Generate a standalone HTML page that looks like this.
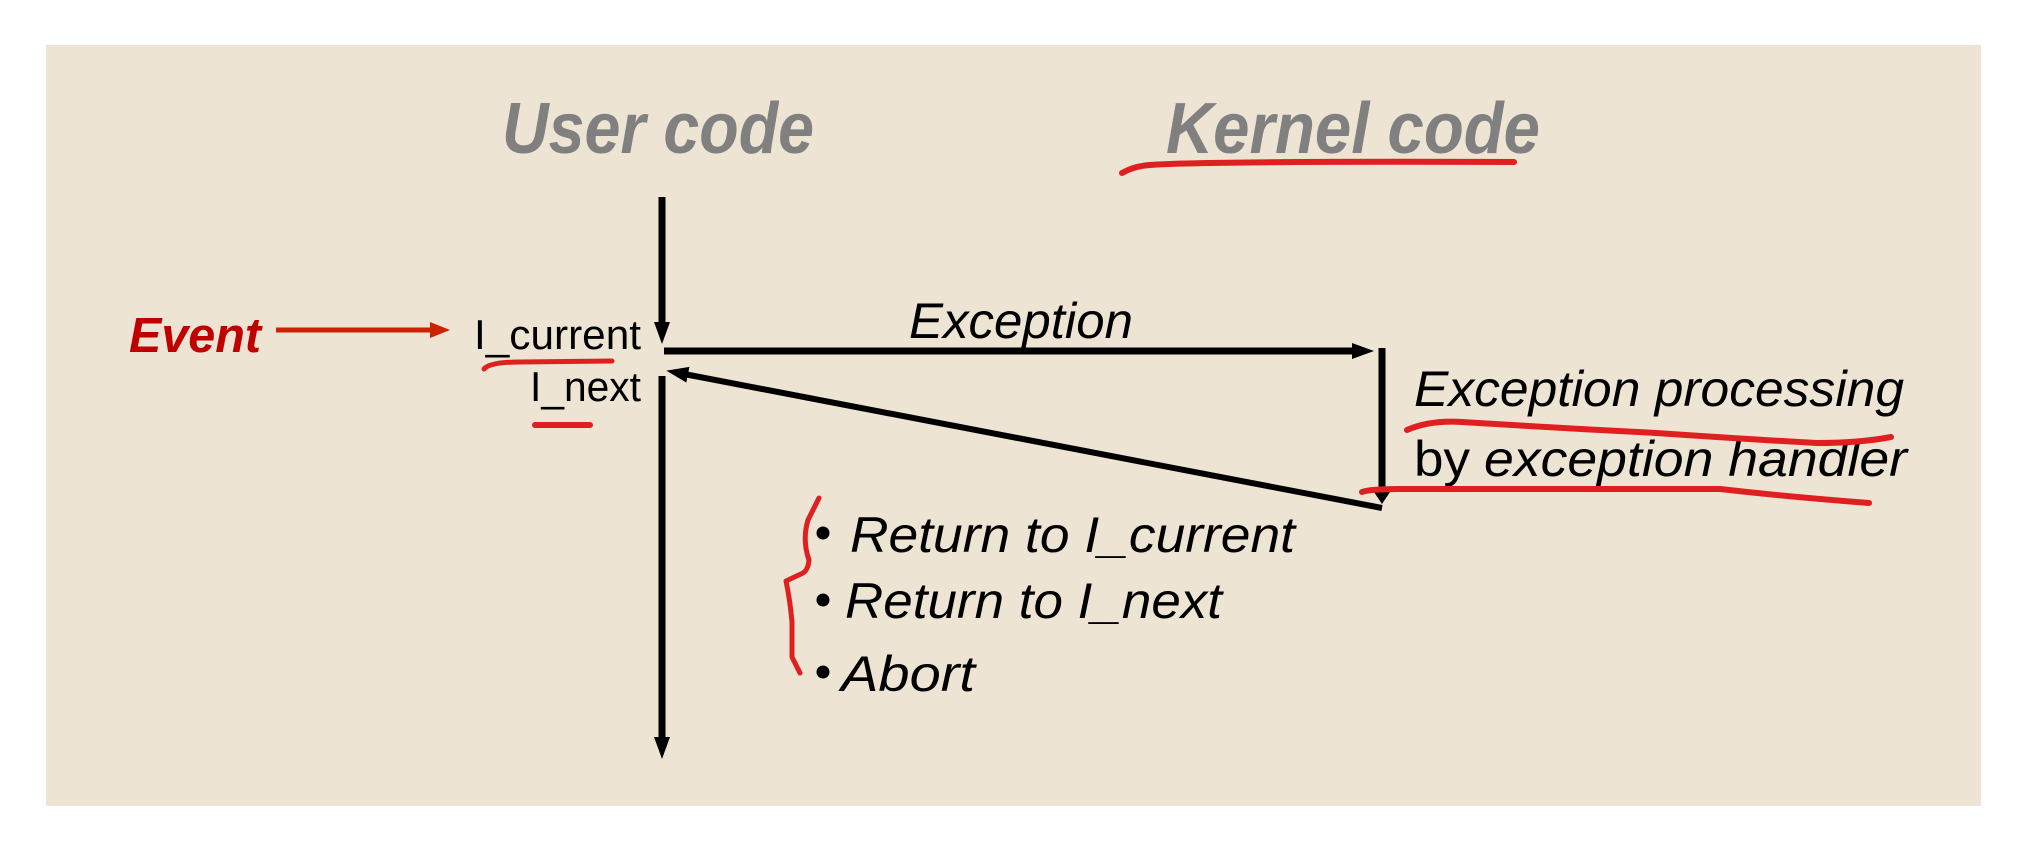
<!DOCTYPE html>
<html><head><style>html,body{margin:0;padding:0;background:#fff}svg{display:block}</style></head>
<body>
<svg width="2022" height="848" viewBox="0 0 2022 848" xmlns="http://www.w3.org/2000/svg" font-family="'Liberation Sans', sans-serif">
<defs>
<marker id="ah" markerWidth="22" markerHeight="18" refX="4" refY="9" orient="auto" markerUnits="userSpaceOnUse"><path d="M0,1 L22,9 L0,17 z" fill="#000"/></marker>
<marker id="ahr" markerWidth="20" markerHeight="16" refX="4" refY="8" orient="auto" markerUnits="userSpaceOnUse"><path d="M0,0 L20,8 L0,16 z" fill="#cc2200"/></marker>
</defs>
<rect x="46" y="45" width="1935" height="761" fill="#ede4d3"/>
<text x="502" y="153" font-size="72" font-weight="bold" font-style="italic" fill="#808080" textLength="312" lengthAdjust="spacingAndGlyphs">User code</text>
<text x="1166" y="153" font-size="72" font-weight="bold" font-style="italic" fill="#808080" textLength="374" lengthAdjust="spacingAndGlyphs">Kernel code</text>
<path d="M1122,173 Q1134,166 1150,165 Q1200,161 1514,162" stroke="#e02020" stroke-width="6" fill="none" stroke-linecap="round"/>
<line x1="662" y1="197" x2="662" y2="326" stroke="#000" stroke-width="7" marker-end="url(#ah)"/>
<line x1="662" y1="376" x2="662" y2="741" stroke="#000" stroke-width="7" marker-end="url(#ah)"/>
<line x1="664" y1="351" x2="1356" y2="351" stroke="#000" stroke-width="7" marker-end="url(#ah)"/>
<line x1="1382" y1="348" x2="1382" y2="496" stroke="#000" stroke-width="7"/>
<path d="M1374,492 L1390,492 L1382,504 z" fill="#000"/>
<line x1="1382" y1="508" x2="684" y2="374" stroke="#000" stroke-width="6" marker-end="url(#ah)"/>
<text x="909" y="338" font-size="50" font-style="italic" fill="#000" textLength="224" lengthAdjust="spacingAndGlyphs">Exception</text>
<text x="129" y="352" font-size="49" font-weight="bold" font-style="italic" fill="#c00000" textLength="132" lengthAdjust="spacingAndGlyphs">Event</text>
<line x1="276" y1="330" x2="434" y2="330" stroke="#cc2200" stroke-width="5" marker-end="url(#ahr)"/>
<text x="474" y="349" font-size="42" fill="#000" textLength="167" lengthAdjust="spacingAndGlyphs">I_current</text>
<text x="530" y="401" font-size="42" fill="#000" textLength="111" lengthAdjust="spacingAndGlyphs">I_next</text>
<path d="M484,369 Q490,362 520,362 L612,361" stroke="#e02020" stroke-width="5" fill="none" stroke-linecap="round"/>
<line x1="535" y1="425" x2="590" y2="425" stroke="#e02020" stroke-width="6" stroke-linecap="round"/>
<circle cx="823" cy="533" r="6.5" fill="#000"/>
<circle cx="823" cy="600" r="6.5" fill="#000"/>
<circle cx="823" cy="672" r="6.5" fill="#000"/>
<text x="850" y="552" font-size="50" font-style="italic" fill="#000" textLength="445" lengthAdjust="spacingAndGlyphs">Return to I_current</text>
<text x="845" y="618" font-size="50" font-style="italic" fill="#000" textLength="377" lengthAdjust="spacingAndGlyphs">Return to I_next</text>
<text x="841" y="691" font-size="50" font-style="italic" fill="#000" textLength="134" lengthAdjust="spacingAndGlyphs">Abort</text>
<path d="M819,498 L808,520 Q802,540 809,560 Q808,570 803,573 L786,581 Q790,600 792,622 L792,657 L800,673" stroke="#e02020" stroke-width="5" fill="none" stroke-linecap="round" stroke-linejoin="round"/>
<text x="1414" y="406" font-size="50" font-style="italic" fill="#000" textLength="490" lengthAdjust="spacingAndGlyphs">Exception processing</text>
<text x="1414" y="476" font-size="50" fill="#000"><tspan textLength="56" lengthAdjust="spacingAndGlyphs">by</tspan> <tspan font-style="italic" x="1484" textLength="423" lengthAdjust="spacingAndGlyphs">exception handler</tspan></text>
<path d="M1407,430 Q1430,420 1462,422 Q1560,428 1656,433 Q1760,440 1817,443 Q1860,443 1891,437" stroke="#e02020" stroke-width="6" fill="none" stroke-linecap="round"/>
<path d="M1362,492 Q1370,489 1400,489 L1720,489 Q1790,497 1869,503" stroke="#e02020" stroke-width="6" fill="none" stroke-linecap="round"/>
</svg>
</body></html>
